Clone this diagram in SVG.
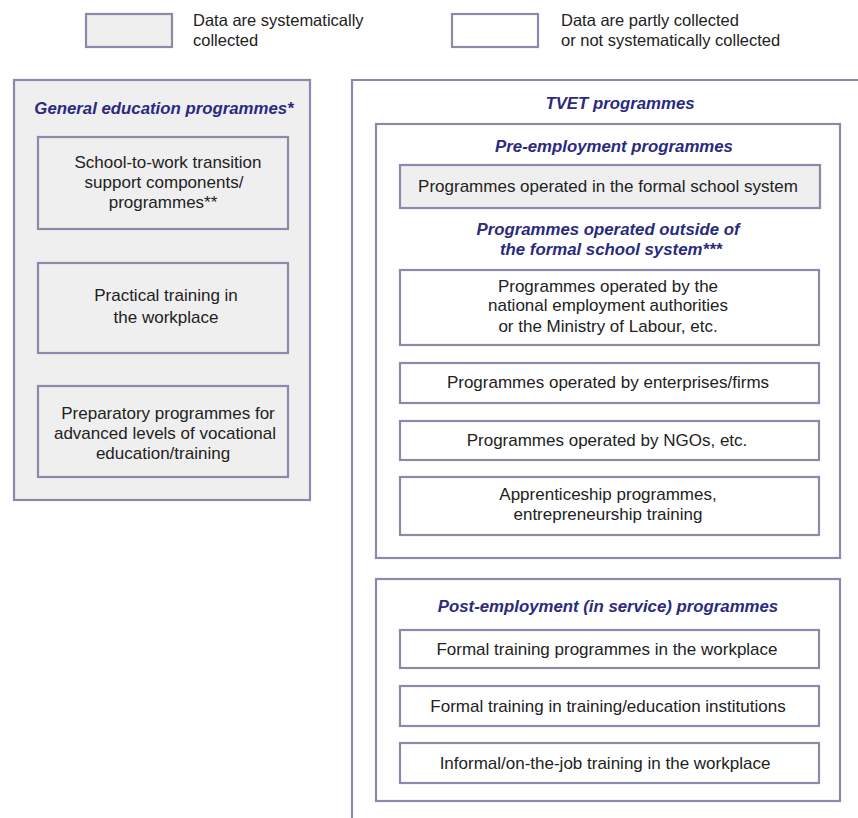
<svg xmlns="http://www.w3.org/2000/svg" width="858" height="818" viewBox="0 0 858 818">
<style>
.b{stroke:#8a8aaa;stroke-width:2.2;}
.g{fill:#efefef;}
.w{fill:#ffffff;}
.t{font-family:"Liberation Sans",Arial,sans-serif;font-size:17px;fill:#222;text-anchor:middle;}
.l{font-family:"Liberation Sans",Arial,sans-serif;font-size:16.5px;fill:#222;}
.h{font-family:"Liberation Sans",Arial,sans-serif;font-size:16.8px;font-weight:bold;font-style:italic;fill:#2a2a80;text-anchor:middle;}
</style>
<rect width="858" height="818" fill="#ffffff"/>
<g id="legend">
<rect class="b g" x="86" y="14" width="86" height="33"/>
<text class="l" x="193" y="26">Data are systematically</text>
<text class="l" x="193" y="46">collected</text>
<rect class="b w" x="452" y="14" width="86" height="33"/>
<text class="l" x="561" y="26">Data are partly collected</text>
<text class="l" x="561" y="46">or not systematically collected</text>
</g>
<g id="general">
<rect class="b g" x="14" y="80" width="296" height="420"/>
<text class="h" x="164" y="114">General education programmes*</text>
</g>
<g id="g1">
<rect class="b g" x="38" y="137" width="250" height="92"/>
<text class="t" x="168" y="168">School-to-work transition</text>
<text class="t" x="164" y="188">support components/</text>
<text class="t" x="163" y="208">programmes**</text>
</g>
<g id="g2">
<rect class="b g" x="38" y="263" width="250" height="90"/>
<text class="t" x="166" y="301">Practical training in</text>
<text class="t" x="166" y="323">the workplace</text>
</g>
<g id="g3">
<rect class="b g" x="38" y="386" width="250" height="91"/>
<text class="t" x="168" y="419">Preparatory programmes for</text>
<text class="t" x="165" y="439">advanced levels of vocational</text>
<text class="t" x="163" y="459">education/training</text>
</g>
<g id="tvet">
<path class="b" d="M352 818 V80 H858" fill="none"/>
<text class="h" x="620" y="109">TVET programmes</text>
</g>
<g id="pre">
<rect class="b w" x="376" y="124" width="464" height="434" stroke="#9a9aaa"/>
<text class="h" x="614" y="152">Pre-employment programmes</text>
</g>
<g id="p1">
<rect class="b g" x="400" y="165" width="420" height="43"/>
<text class="t" x="608" y="192">Programmes operated in the formal school system</text>
</g>
<g id="outside">
<text class="h" x="608" y="235">Programmes operated outside of</text>
<text class="h" x="611" y="255">the formal school system***</text>
</g>
<g id="p2">
<rect class="b w" x="400" y="270" width="419" height="75"/>
<text class="t" x="608" y="292">Programmes operated by the</text>
<text class="t" x="608" y="311">national employment authorities</text>
<text class="t" x="608" y="332">or the Ministry of Labour, etc.</text>
</g>
<g id="p3">
<rect class="b w" x="400" y="363" width="419" height="40"/>
<text class="t" x="608" y="388">Programmes operated by enterprises/firms</text>
</g>
<g id="p4">
<rect class="b w" x="400" y="421" width="419" height="39"/>
<text class="t" x="607" y="446">Programmes operated by NGOs, etc.</text>
</g>
<g id="p5">
<rect class="b w" x="400" y="477" width="419" height="58"/>
<text class="t" x="608" y="500">Apprenticeship programmes,</text>
<text class="t" x="608" y="520">entrepreneurship training</text>
</g>
<g id="post">
<rect class="b w" x="376" y="579" width="464" height="222" stroke="#9a9aaa"/>
<text class="h" x="608" y="612">Post-employment (in service) programmes</text>
</g>
<g id="q1">
<rect class="b w" x="400" y="630" width="419" height="38"/>
<text class="t" x="607" y="655">Formal training programmes in the workplace</text>
</g>
<g id="q2">
<rect class="b w" x="400" y="686" width="419" height="40"/>
<text class="t" x="608" y="712">Formal training in training/education institutions</text>
</g>
<g id="q3">
<rect class="b w" x="400" y="743" width="419" height="40"/>
<text class="t" x="605" y="769">Informal/on-the-job training in the workplace</text>
</g>
<g id="connectors"></g>
</svg>
